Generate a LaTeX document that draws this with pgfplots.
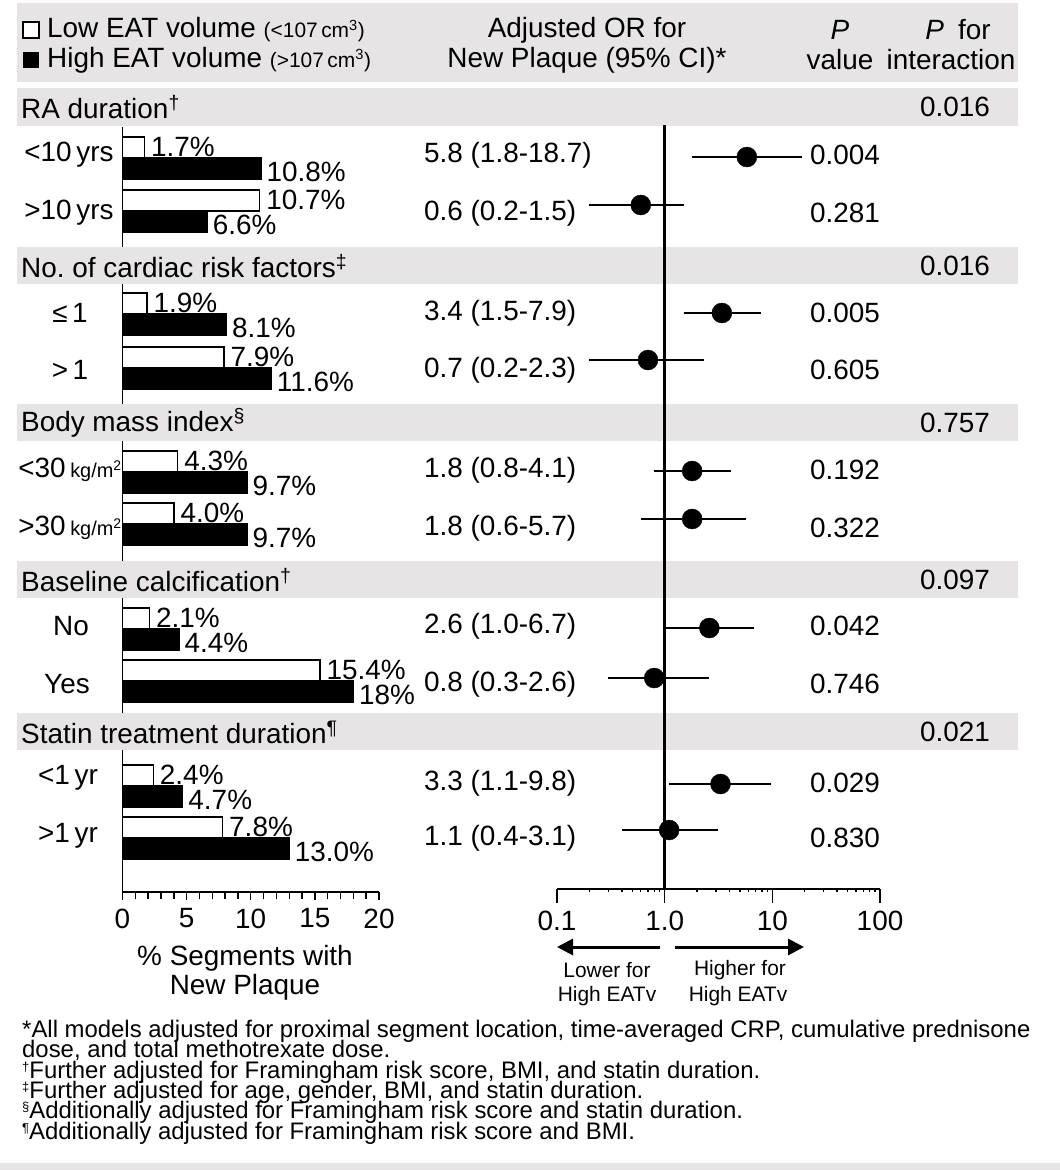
\documentclass[border=0pt]{standalone}
\usepackage{pgfplots}
\pgfplotsset{compat=1.18}
\usetikzlibrary{arrows.meta}
\usepackage{fontspec}
\setmainfont{Liberation Sans}
\definecolor{band}{RGB}{230,228,229}
\newcommand{\fsz}[1]{\fontsize{#1}{#1}\selectfont}
\newcommand{\fn}[1]{\raisebox{7bp}{\fsz{13}#1}}
\begin{document}
\begin{tikzpicture}[font=\fsz{28}]
\useasboundingbox (0,0) rectangle (1060bp,-1170bp);
\fill[white] (0,0) rectangle (1060bp,-1170bp);

% ---------- bar chart ----------
\begin{axis}[at={(122.5bp,-892bp)}, anchor=south west, scale only axis,
  width=256.5bp, height=765bp, xmin=0, xmax=20, ymin=-892, ymax=-127,
  axis x line*=bottom, axis y line*=left,
  axis line style={line width=1.6bp}, ytick=\empty,
  xtick={0,5,10,15,20}, minor xtick={1,2,3,4,6,7,8,9,11,12,13,14,16,17,18,19},
  tick align=outside, major tick length=8bp, minor tick length=7bp,
  tick style={line width=1.4bp, black},
  xticklabel style={font=\fsz{28}, yshift=-5bp},
  /pgf/number format/assume math mode=true,
  clip=false, xbar, bar width=21, bar shift=0pt,
  point meta=explicit symbolic,
  nodes near coords={\pgfplotspointmeta\%},
  nodes near coords style={anchor=west, inner sep=0pt, font=\fsz{28}}]
\addplot[draw=black, line width=1.4bp, fill=white,
  every node near coord/.append style={xshift=6bp, yshift=1bp}]
  table[meta=lab] {
x y lab
1.7 -147.5 1.7
10.7 -200.5 10.7
1.9 -303.5 1.9
7.9 -357.5 7.9
4.3 -461.5 4.3
4.0 -513.5 4.0
2.1 -618.5 2.1
15.4 -670.5 15.4
2.4 -775.5 2.4
7.8 -827.5 7.8
};
\addplot[draw=black, line width=1.4bp, fill=black,
  every node near coord/.append style={xshift=5bp, yshift=-3bp}]
  table[meta=lab] {
x y lab
10.8 -168.5 10.8
6.6 -221.5 6.6
8.1 -324.5 8.1
11.6 -378.5 11.6
9.7 -482.5 9.7
9.7 -534.5 9.7
4.4 -639.5 4.4
18 -691.5 18
4.7 -796.5 4.7
13.0 -848.5 13.0
};
\end{axis}

% ---------- bands ----------
\begin{scope}[x=1bp,y=-1bp]
\fill[band] (17,3) rectangle (1018,82);
\fill[band] (17,88) rectangle (1018,126);
\fill[band] (17,247) rectangle (1018,284);
\fill[band] (17,404) rectangle (1018,441);
\fill[band] (17,561) rectangle (1018,598);
\fill[band] (17,713) rectangle (1018,750);
\fill[band] (0,1163) rectangle (1060,1170);
\end{scope}

% ---------- forest plot ----------
\begin{axis}[at={(557bp,-889bp)}, anchor=south west, scale only axis,
  width=323bp, height=764bp, xmode=log, xmin=0.1, xmax=100,
  ymin=-889, ymax=-125,
  axis x line*=bottom, axis y line=none,
  axis line style={line width=1.4bp},
  xtick={0.1,1,10,100}, xticklabels={0.1,1.0,10,100}, minor xtick={},
  tick align=outside, major tick length=14bp,
  tick style={line width=1.4bp, black},
  xticklabel style={font=\fsz{28}, yshift=-4bp},
  clip=false]
\addplot[line width=2.6bp] coordinates {(1,-125) (1,-889)};
\addplot[line width=1.4bp, unbounded coords=jump] coordinates {
(1.8,-157) (18.7,-157) (nan,nan)
(0.2,-205) (1.5,-205) (nan,nan)
(1.5,-313) (7.9,-313) (nan,nan)
(0.2,-360) (2.3,-360) (nan,nan)
(0.8,-471) (4.1,-471) (nan,nan)
(0.6,-519) (5.7,-519) (nan,nan)
(1.0,-628) (6.7,-628) (nan,nan)
(0.3,-678) (2.6,-678) (nan,nan)
(1.1,-784) (9.8,-784) (nan,nan)
(0.4,-830) (3.1,-830)
};
\addplot[only marks, mark=*, mark size=10bp, mark options={fill=black, draw=black}] coordinates {
(5.8,-157) (0.6,-205) (3.4,-313) (0.7,-360) (1.8,-471)
(1.8,-519) (2.6,-628) (0.8,-678) (3.3,-784) (1.1,-830)
};
\end{axis}

% ---------- text ----------
\begin{scope}[x=1bp,y=-1bp]
% header legend
\draw[line width=1.5bp, fill=white] (23,22) rectangle (39,38);
\fill[black] (23,52) rectangle (39,68);
\node[anchor=west, inner sep=0pt] at (47,30) {Low EAT volume {\fsz{21}(<107\,cm\textsuperscript{3})}};
\node[anchor=west, inner sep=0pt] at (47,60) {High EAT volume {\fsz{21}(>107\,cm\textsuperscript{3})}};
\node at (587,30) {Adjusted OR for};
\node at (587,60) {New Plaque (95\% CI)*};
\node at (840,30) {\textit{P}};
\node at (840,60) {value};
\node at (958,30) {\textit{P}\enspace for};
\node at (951,60) {interaction};
% group titles
\node[anchor=west, inner sep=0pt] at (21,107) {RA duration\textsuperscript{†}};
\node[anchor=west, inner sep=0pt] at (21,266) {No.\ of cardiac risk factors\textsuperscript{‡}};
\node[anchor=west, inner sep=0pt] at (21,423) {Body mass index\textsuperscript{§}};
\node[anchor=west, inner sep=0pt] at (21,580) {Baseline calcification\textsuperscript{†}};
\node[anchor=west, inner sep=0pt] at (21,732) {Statin treatment duration\textsuperscript{¶}};
\foreach \y/\t in {107/0.016, 266/0.016, 423/0.757, 580/0.097, 732/0.021}
  \node at (955,\y) {\t};
% subgroup labels
\node at (69,155) {<10\,yrs};
\node at (69,213) {>10\,yrs};
\node at (70,313) {≤\,1};
\node at (70,370) {>\,1};
\node at (70,470) {<30\,{\fsz{20}kg/m\textsuperscript{2}}};
\node at (70,528) {>30\,{\fsz{20}kg/m\textsuperscript{2}}};
\node at (71,626) {No};
\node at (67,684) {Yes};
\node at (68,778) {<1\,yr};
\node at (68,836) {>1\,yr};
% OR text and p values
\foreach \y/\o/\p in {155/5.8 (1.8-18.7)/0.004, 213/0.6 (0.2-1.5)/0.281,
  313/3.4 (1.5-7.9)/0.005, 370/0.7 (0.2-2.3)/0.605,
  470/1.8 (0.8-4.1)/0.192, 528/1.8 (0.6-5.7)/0.322,
  626/2.6 (1.0-6.7)/0.042, 684/0.8 (0.3-2.6)/0.746,
  783/3.3 (1.1-9.8)/0.029, 838/1.1 (0.4-3.1)/0.830}{
  \node[anchor=west, inner sep=0pt] at (424,\y) {\o};
  \node at (845,\y) {\p};
}
% axis titles
\node at (245,958) {\% Segments with};
\node at (245,987) {New Plaque};
\draw[line width=3bp, -{Triangle[length=16bp,width=16bp]}] (660,947) -- (557,947);
\draw[line width=3bp, -{Triangle[length=16bp,width=16bp]}] (675,947) -- (804,947);
\node[font=\fsz{21}] at (607,970) {Lower for};
\node[font=\fsz{21}] at (607,996) {High EATv};
\node[font=\fsz{21}] at (740,970) {Higher for};
\node[font=\fsz{21}] at (738,996) {High EATv};
% footnotes
\begin{scope}[every node/.style={anchor=west, inner sep=0pt, font=\fsz{24}, text height=15bp, text depth=4bp}]
\node at (22,1032) {*All models adjusted for proximal segment location, time-averaged CRP, cumulative prednisone};
\node at (22,1052) {dose, and total methotrexate dose.};
\node at (22,1073) {\fn{†}Further adjusted for Framingham risk score, BMI, and statin duration.};
\node at (22,1093) {\fn{‡}Further adjusted for age, gender, BMI, and statin duration.};
\node at (22,1113) {\fn{§}Additionally adjusted for Framingham risk score and statin duration.};
\node at (22,1134) {\fn{¶}Additionally adjusted for Framingham risk score and BMI.};
\end{scope}
\end{scope}
\end{tikzpicture}
\end{document}
